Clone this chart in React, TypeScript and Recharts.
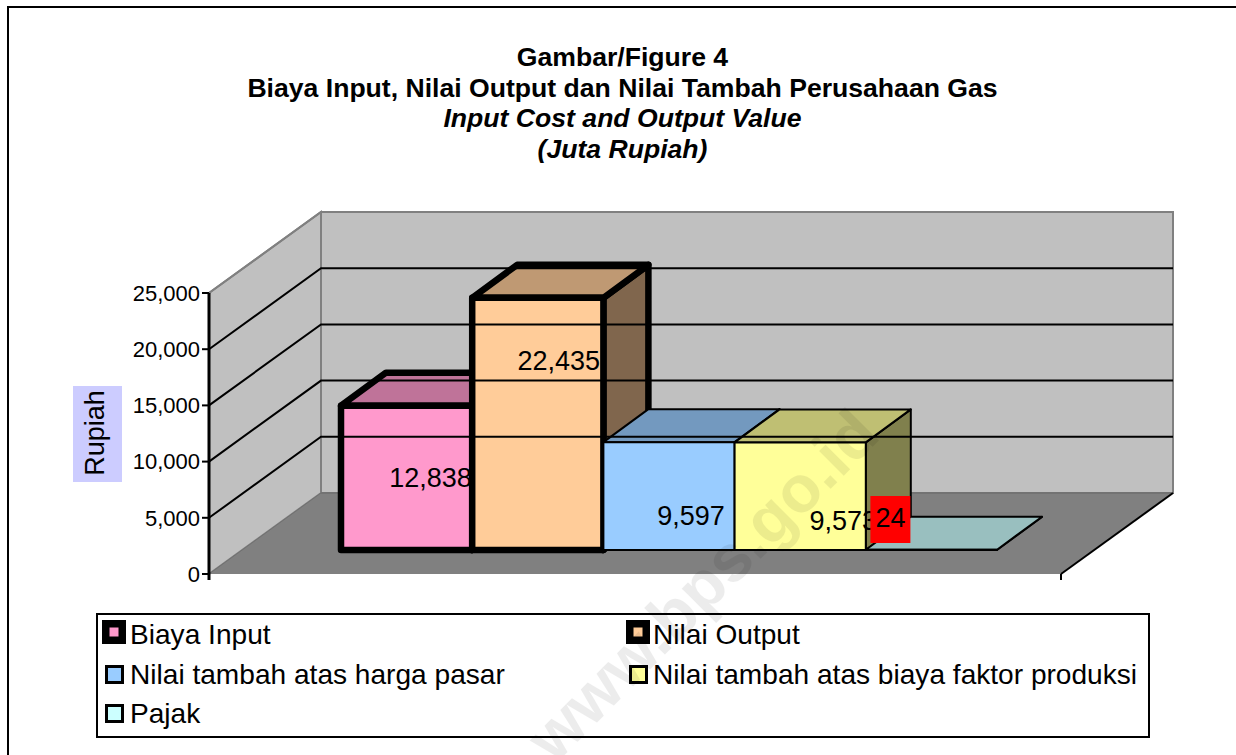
import React from 'react';
import { BarChart, Bar, XAxis, YAxis, Legend, ReferenceArea, ReferenceLine } from 'recharts';

const CATEGORIES = ['Gas'];
const SERIES_NAMES = [
  'Biaya Input',
  'Nilai Output',
  'Nilai tambah atas harga pasar',
  'Nilai tambah atas biaya faktor produksi',
  'Pajak',
];
const SERIES_VALUES = [12838, 22435, 9597, 9573, 24];
const SERIES_COLORS = ['#FF99CC', '#FFCC99', '#99CCFF', '#FFFF99', '#CCFFFF'];
const SERIES_STROKES = [6.5, 6.5, 2, 2, 2];
const Y_TICKS = [0, 5000, 10000, 15000, 20000, 25000];
const TITLE_LINES = [
  'Gambar/Figure 4',
  'Biaya Input, Nilai Output dan Nilai Tambah Perusahaan Gas',
  'Input Cost and Output Value',
  '(Juta Rupiah)',
];

const FONT = '"Liberation Sans", Arial, sans-serif';

// wall depth of the fake 3d box
const WALL_DX = 112;
const WALL_DY = -81;
// bars sit part way into the floor
const BAR_SHIFT_X = 34;
const BAR_SHIFT_Y = -24;
const BAR_DX = 45;
const BAR_DY = -33;

// where the data labels landed in the original, relative to the bar centre
const LABEL_NUDGE = [
  [24, 0],
  [21, -63],
  [22, 20],
  [43, 25],
  [-41, 0],
];

const rows = CATEGORIES.map((name) => {
  const row: Record<string, string | number> = { name };
  SERIES_NAMES.forEach((s, i) => {
    row[s] = SERIES_VALUES[i];
  });
  return row;
});

const shade = (hex: string, k: number) => {
  const n = parseInt(hex.slice(1), 16);
  const r = Math.round(((n >> 16) & 255) * k);
  const g = Math.round(((n >> 8) & 255) * k);
  const b = Math.round((n & 255) * k);
  return `rgb(${r},${g},${b})`;
};

const pts = (list: number[][]) => list.map((p) => p.join(',')).join(' ');

const Walls = (props: any) => {
  const { x, y, width, height } = props;
  const l = x;
  const r = x + width;
  const t = y;
  const b = y + height;
  return (
    <g>
      <polygon
        points={pts([[l, b], [l, t], [l + WALL_DX, t + WALL_DY], [l + WALL_DX, b + WALL_DY]])}
        fill="#C0C0C0"
        stroke="#808080"
        strokeWidth={2}
      />
      <rect
        x={l + WALL_DX}
        y={t + WALL_DY}
        width={width}
        height={height}
        fill="#C0C0C0"
        stroke="#808080"
        strokeWidth={2}
      />
      <polygon
        points={pts([[l, b], [l + WALL_DX, b + WALL_DY], [r + WALL_DX, b + WALL_DY], [r, b]])}
        fill="#808080"
      />
      <line x1={l} y1={b} x2={l + WALL_DX} y2={b + WALL_DY} stroke="#707070" strokeWidth={1} />
      <line x1={l + WALL_DX} y1={b + WALL_DY} x2={r + WALL_DX} y2={b + WALL_DY} stroke="#666666" strokeWidth={1} />
      <line x1={r} y1={b} x2={r + WALL_DX} y2={b + WALL_DY} stroke="#000" strokeWidth={2} />
      <line x1={r} y1={b} x2={r} y2={b + 6} stroke="#000" strokeWidth={2} />
      <line x1={l} y1={b} x2={l} y2={b + 6} stroke="#000" strokeWidth={3} />
    </g>
  );
};

const GridLine = (props: any) => {
  const { x1, y1, x2, y2, top } = props;
  return (
    <polyline
      points={pts([[x1, y1], [x1 + WALL_DX, y1 + WALL_DY], [x2 + WALL_DX, y2 + WALL_DY]])}
      fill="none"
      stroke={top ? '#808080' : '#000'}
      strokeWidth={2}
    />
  );
};

const makeBox = (i: number) => (props: any) => {
  const { x, y, width, height } = props;
  const color = SERIES_COLORS[i];
  const sw = SERIES_STROKES[i];
  const fx = x + BAR_SHIFT_X;
  const fy = y + BAR_SHIFT_Y;
  const fr = fx + width;
  const fb = fy + height;
  const [nx, ny] = LABEL_NUDGE[i];
  const isLast = i === SERIES_VALUES.length - 1;
  const lx = fx + width / 2 + nx;
  const ly = (fy + fb) / 2 + ny;
  return (
    <g stroke="#000" strokeWidth={sw} strokeLinejoin="round">
      <polygon
        points={pts([[fr, fy], [fr + BAR_DX, fy + BAR_DY], [fr + BAR_DX, fb + BAR_DY], [fr, fb]])}
        fill={shade(color, 0.5)}
      />
      <polygon
        points={pts([[fx, fy], [fx + BAR_DX, fy + BAR_DY], [fr + BAR_DX, fy + BAR_DY], [fr, fy]])}
        fill={shade(color, 0.75)}
      />
      <rect x={fx} y={fy} width={width} height={height} fill={color} />
      {/* the Pajak label has the red box behind it in the original */}
      {isLast && <rect x={lx - 20} y={496} width={40} height={47} fill="#FF0000" stroke="none" />}
      <text
        x={lx}
        y={isLast ? 518 : ly}
        textAnchor="middle"
        dominantBaseline="central"
        fontFamily={FONT}
        fontSize={27}
        fill="#000"
        stroke="none"
      >
        {SERIES_VALUES[i].toLocaleString('en-US')}
      </text>
    </g>
  );
};

const legendIcon = (i: number) => {
  const thick = SERIES_STROKES[i] > 2;
  const size = thick ? 24 : 19;
  const sw = thick ? 7.5 : 3;
  return (
    <svg width={size} height={size} style={{ display: 'block' }}>
      <rect
        x={sw / 2}
        y={sw / 2}
        width={size - sw}
        height={size - sw}
        fill={SERIES_COLORS[i]}
        stroke="#000"
        strokeWidth={sw}
      />
    </svg>
  );
};

const LegendBox = () => (
  <div
    style={{
      position: 'relative',
      width: 1054,
      height: 125,
      boxSizing: 'border-box',
      border: '2px solid #000',
      background: '#fff',
      fontFamily: FONT,
      fontSize: 28.1,
      color: '#000',
    }}
  >
    {SERIES_NAMES.map((name, i) => {
      const col = i % 2;
      const row = Math.floor(i / 2);
      const thick = SERIES_STROKES[i] > 2;
      const left = col === 0 ? 32 : 555;
      const rowY = [20, 60, 99][row];
      return (
        <React.Fragment key={name}>
          <div
            style={{
              position: 'absolute',
              left: left - (col === 0 ? 1 : 0) - (thick ? 27 : 24),
              top: rowY - (thick ? 15 : 10),
            }}
          >
            {legendIcon(i)}
          </div>
          <div
            style={{
              position: 'absolute',
              left,
              top: rowY - 16,
              lineHeight: '32px',
              whiteSpace: 'nowrap',
            }}
          >
            {name}
          </div>
        </React.Fragment>
      );
    })}
  </div>
);

const RupiahLabel = () => (
  <g>
    <rect x={73} y={386} width={49} height={96} fill="#CCCCFF" />
    <text
      transform="translate(95,433) rotate(-90)"
      textAnchor="middle"
      dominantBaseline="central"
      fontFamily={FONT}
      fontSize={27}
      fill="#000"
    >
      Rupiah
    </text>
  </g>
);

export default function App() {
  return (
    <div
      style={{
        position: 'absolute',
        left: 0,
        top: 0,
        width: 1236,
        height: 755,
        overflow: 'hidden',
        background: '#fff',
      }}
    >
      {/* only the top and left of the page frame are in the picture */}
      <div style={{ position: 'absolute', left: 7, top: 6, width: 1229, height: 2, background: '#000' }} />
      <div style={{ position: 'absolute', left: 7, top: 6, width: 2, height: 749, background: '#000' }} />

      <div
        style={{
          position: 'absolute',
          left: 0,
          width: 1245,
          top: 42,
          textAlign: 'center',
          fontFamily: FONT,
          fontWeight: 700,
          fontSize: 26.6,
          lineHeight: '30.5px',
          color: '#000',
        }}
      >
        {TITLE_LINES.map((line, i) => (
          <div key={line} style={{ fontStyle: i >= 2 ? 'italic' : 'normal' }}>
            {line}
          </div>
        ))}
      </div>

      <BarChart
        width={1236}
        height={755}
        data={rows}
        margin={{ top: 293, right: 175, bottom: 56, left: 0 }}
        barSize={131.2}
        barGap={0}
        barCategoryGap={98}
        style={{ position: 'absolute', left: 0, top: 0 }}
      >
        <XAxis dataKey="name" tick={false} tickLine={false} height={0} axisLine={{ stroke: '#000', strokeWidth: 3 }} />
        <YAxis
          width={209}
          domain={[0, 25000]}
          ticks={Y_TICKS}
          interval={0}
          tickFormatter={(v: number) => v.toLocaleString('en-US')}
          tick={{ fontFamily: FONT, fontSize: 22, fill: '#000' }}
          tickLine={{ stroke: '#000', strokeWidth: 2 }}
          tickSize={7}
          tickMargin={2}
          axisLine={{ stroke: '#000', strokeWidth: 3 }}
          label={{ content: RupiahLabel }}
        />
        <ReferenceArea y1={0} y2={25000} shape={Walls} />
        {Y_TICKS.slice(1).map((t) => (
          <ReferenceLine key={t} y={t} shape={(p: any) => <GridLine {...p} top={t === 25000} />} />
        ))}
        {SERIES_NAMES.map((name, i) => (
          <Bar
            key={name}
            dataKey={name}
            name={name}
            fill={SERIES_COLORS[i]}
            isAnimationActive={false}
            shape={makeBox(i)}
          />
        ))}
        <Legend
          content={LegendBox}
          wrapperStyle={{ position: 'absolute', left: 96, top: 613, width: 1054, bottom: 'auto' }}
        />
      </BarChart>

      {/* bps watermark, sits over everything */}
      <div
        style={{
          position: 'absolute',
          left: 702,
          top: 585,
          transform: 'translate(-50%,-50%) rotate(-45deg)',
          fontFamily: FONT,
          fontWeight: 700,
          fontSize: 66,
          whiteSpace: 'nowrap',
          color: '#000',
          opacity: 0.07,
          pointerEvents: 'none',
        }}
      >
        www.bps.go.id
      </div>
    </div>
  );
}
